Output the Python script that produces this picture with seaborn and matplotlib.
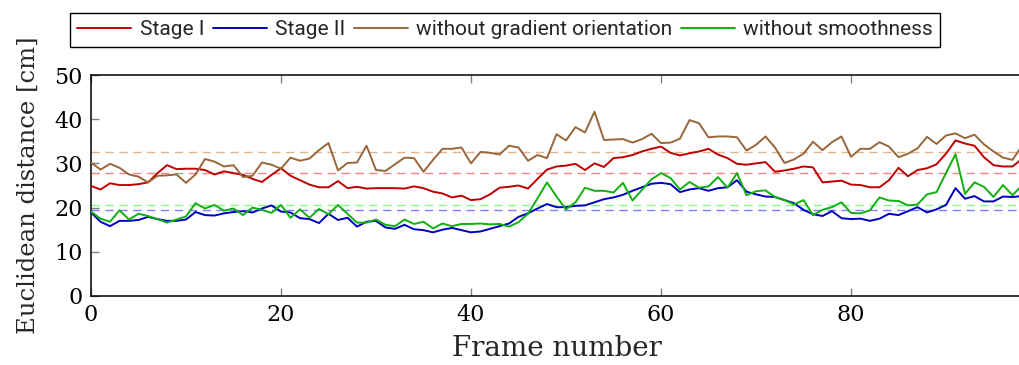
import numpy as np
import pandas as pd
import matplotlib
matplotlib.use("Agg")
import matplotlib.pyplot as plt
import seaborn as sns

frames = list(range(99))

stage_1 = [
    24.9, 24.1, 25.5, 25.1, 25.1, 25.3, 25.7, 27.8, 29.6, 28.7, 28.8, 28.8, 28.5, 27.5, 28.2,
    27.8, 27.4, 26.5, 25.8, 27.4, 28.9, 27.2, 26.2, 25.2, 24.6, 24.6, 26.0, 24.4, 24.7,
    24.3, 24.4, 24.4, 24.4, 24.3, 24.8, 24.4, 23.6, 23.2, 22.3, 22.7, 21.7, 21.9, 23.0,
    24.5, 24.7, 25.0, 24.3, 26.5, 28.6, 29.3, 29.5, 29.9, 28.5, 30.0, 29.2, 31.2, 31.4,
    31.9, 32.7, 33.3, 33.8, 32.4, 31.8, 32.3, 32.7, 33.3, 32.0, 31.2, 29.9, 29.7, 30.0,
    30.3, 28.1, 28.4, 28.8, 29.3, 29.1, 25.7, 25.9, 26.1, 25.2, 25.1, 24.6, 24.6, 26.2,
    29.0, 27.1, 28.5, 28.9, 29.8, 32.2, 35.2, 34.5, 34.0, 31.4, 29.6, 29.3, 29.3, 31.0,
]

stage_2 = [
    18.9, 16.8, 15.8, 17.0, 17.0, 17.2, 17.9, 17.4, 17.0, 17.0, 17.3, 19.0, 18.3, 18.2, 18.7,
    19.0, 19.2, 18.9, 19.8, 20.5, 19.1, 18.9, 17.6, 17.4, 16.5, 18.6, 17.2, 17.7, 15.7,
    16.8, 17.0, 15.5, 15.2, 16.1, 15.1, 14.9, 14.4, 15.0, 15.4, 14.9, 14.4, 14.6, 15.2,
    15.8, 16.4, 17.9, 18.7, 19.8, 20.8, 20.1, 20.1, 20.4, 20.5, 21.2, 21.9, 22.3, 22.9,
    23.8, 24.6, 25.4, 25.6, 25.3, 23.5, 24.1, 24.4, 23.8, 24.4, 24.6, 26.2, 23.6, 23.0,
    22.5, 22.4, 21.7, 21.0, 19.5, 18.5, 18.1, 19.2, 17.6, 17.4, 17.5, 17.0, 17.5, 18.6,
    18.3, 19.2, 20.1, 18.9, 19.6, 20.6, 24.4, 22.0, 22.6, 21.4, 21.4, 22.5, 22.4, 22.6,
]

no_gradient = [
    30.2, 28.6, 29.9, 29.0, 27.5, 27.0, 25.7, 27.2, 27.3, 27.5, 25.6, 27.5, 31.0, 30.4, 29.3,
    29.6, 26.9, 27.2, 30.2, 29.7, 28.8, 31.3, 30.6, 31.1, 33.0, 34.6, 28.4, 30.1, 30.2,
    34.0, 28.5, 28.3, 29.8, 31.3, 31.2, 28.1, 30.8, 33.3, 33.3, 33.6, 30.0, 32.6, 32.4,
    32.0, 34.0, 33.6, 30.6, 31.9, 31.2, 36.6, 35.2, 38.2, 37.0, 41.7, 35.3, 35.4, 35.5,
    34.7, 35.5, 36.7, 34.6, 34.7, 35.6, 39.8, 39.1, 35.9, 36.1, 36.1, 35.9, 32.9, 34.2,
    36.1, 33.6, 30.1, 30.9, 32.2, 34.9, 33.0, 34.8, 36.1, 31.5, 33.3, 33.3, 34.8, 33.8,
    31.4, 32.2, 33.4, 36.0, 34.4, 36.3, 36.8, 35.7, 36.5, 34.3, 32.7, 31.3, 30.8, 34.0,
]

no_smoothness = [
    19.1, 17.5, 16.8, 19.4, 17.3, 18.6, 18.1, 17.4, 16.6, 17.3, 18.0, 21.0, 19.8, 20.6, 19.3,
    19.8, 18.3, 20.0, 19.5, 18.8, 20.6, 17.7, 19.6, 17.7, 19.7, 18.5, 20.6, 18.6, 16.6,
    16.6, 17.3, 16.1, 15.8, 17.3, 16.3, 16.8, 15.3, 16.4, 15.8, 16.3, 16.3, 16.4, 16.2,
    16.3, 15.7, 16.7, 18.6, 22.1, 25.7, 22.5, 19.6, 21.2, 24.5, 23.8, 23.8, 23.4, 25.6,
    21.6, 24.0, 26.4, 27.8, 26.7, 24.1, 25.8, 24.5, 24.8, 26.9, 24.5, 27.8, 22.8, 23.7,
    23.9, 22.4, 21.7, 20.7, 21.7, 18.3, 19.5, 20.1, 21.2, 18.8, 18.7, 19.4, 22.3, 21.6,
    21.5, 20.5, 20.7, 23.0, 23.5, 27.8, 32.1, 23.1, 25.7, 24.7, 22.4, 25.1, 22.8, 25.0,
]

series_names = ["Stage I", "Stage II", "without gradient orientation", "without smoothness"]
mean_levels = [27.8, 19.4, 32.5, 20.7]

line_colors = ["#c00000", "#0000c0", "#99663a", "#10b010"]
mean_colors = ["#ff8080", "#8080ff", "#e0b48c", "#80ff80"]

df = pd.DataFrame({
    "frame": frames * 4,
    "distance": stage_1 + stage_2 + no_gradient + no_smoothness,
    "series": sum([[n] * len(frames) for n in series_names], []),
})

sns.set_theme(style="white")
plt.rcParams["font.family"] = ["DejaVu Serif"]

W, H = 1019, 365
fig = plt.figure(figsize=(W / 100, H / 100), dpi=100)
ax = fig.add_axes([91 / W, (H - 296) / H, 931 / W, 221 / H])

# dashed mean levels underneath the curves
for lvl, c in zip(mean_levels, mean_colors):
    ax.axhline(lvl, color=c, lw=1.0, dashes=(6, 4), zorder=1)

sns.lineplot(data=df, x="frame", y="distance", hue="series",
             palette=dict(zip(series_names, line_colors)),
             hue_order=series_names, linewidth=1.4, ax=ax, legend=False, zorder=3)

ax.set_xlim(0, 98)
ax.set_ylim(0, 50)
ax.set_xticks([0, 20, 40, 60, 80])
ax.set_yticks([0, 10, 20, 30, 40, 50])
ax.tick_params(axis="both", direction="in", length=6, width=1, color="#808080",
               labelsize=16, labelcolor="black", top=True, bottom=True, left=True,
               pad=6)
for s in ["left", "bottom", "top"]:
    ax.spines[s].set_color("black")
    ax.spines[s].set_linewidth(1.1)
ax.spines["right"].set_visible(False)

ax.set_xlabel("Frame number", fontsize=20, labelpad=6)
ax.set_ylabel("Euclidean distance [cm]", fontsize=17.5, labelpad=10)

handles = [plt.Line2D([], [], color=c, lw=1.4) for c in line_colors]
leg = fig.legend(handles, series_names, ncol=4, loc="upper left",
                 bbox_to_anchor=(70 / W, 1 - 13 / H), frameon=True, fancybox=False,
                 edgecolor="black", framealpha=1,
                 prop={"family": ["Roboto"], "size": 15},
                 handlelength=2.6, handletextpad=0.4, columnspacing=0.4,
                 borderpad=0.35, borderaxespad=0)
leg.get_frame().set_linewidth(1.0)

fig.savefig("out.png", dpi=100)
